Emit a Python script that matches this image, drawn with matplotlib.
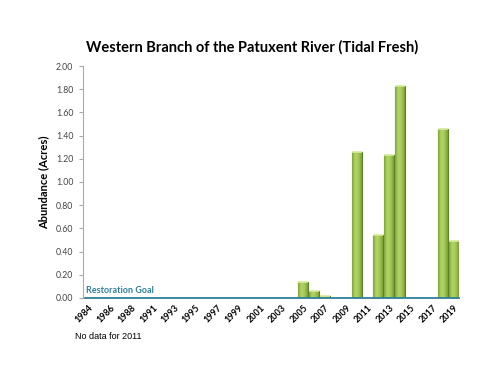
import matplotlib.pyplot as plt
import numpy as np
from matplotlib.colors import LinearSegmentedColormap

years = ['1984', '1985', '1986', '1987', '1988', '1989', '1991', '1992', '1993', '1994',
         '1995', '1996', '1997', '1998', '1999', '2000', '2001', '2002', '2003', '2004',
         '2005', '2006', '2007', '2008', '2009', '2010', '2011', '2012', '2013', '2014',
         '2015', '2016', '2017', '2018', '2019']
acres = [0, 0, 0, 0, 0, 0, 0, 0, 0, 0,
         0, 0, 0, 0, 0, 0, 0, 0, 0, 0,
         0.14, 0.06, 0.02, 0, 0, 1.26, 0, 0.54, 1.23, 1.83,
         0, 0, 0, 1.46, 0.49]
goal = [0.0] * len(years)

plt.rcParams['font.family'] = ['Lato', 'DejaVu Sans']

fig = plt.figure(figsize=(5, 3.86), dpi=100)
ax = fig.add_axes([0.166, 0.228, 0.752, 0.601])

x = np.arange(len(years))
bars = ax.bar(x, acres, width=0.92, color='#97c14b', edgecolor='#5e7f2b', linewidth=0.8, zorder=2)

# horizontal shading inside each bar, a bit like the 3D look
shade = LinearSegmentedColormap.from_list('shade', ['#7ea43a', '#b3d567', '#a3c957', '#7a9e35'])
grad = np.linspace(0, 1, 64).reshape(1, -1)
for b in bars:
    h = b.get_height()
    if h <= 0:
        continue
    x0 = b.get_x()
    im = ax.imshow(grad, cmap=shade, aspect='auto', zorder=2.1,
                   extent=[x0, x0 + b.get_width(), 0, h])
    im.set_clip_path(b)
    ax.plot([x0, x0 + b.get_width()], [h, h], color='#d7ec9c', linewidth=1.2, zorder=2.2,
            solid_capstyle='butt')

ax.plot(np.concatenate([[x[0] - 0.3], x, [x[-1] + 0.5]]),
        [goal[0]] + goal + [goal[-1]], color='#2e7f9a', linewidth=1.3, zorder=3, clip_on=False)
ax.text(-0.25, 0.045, 'Restoration Goal', color='#2e7f9a', fontsize=6.5, fontweight='bold')

ax.set_xlim(-0.5, len(years) - 0.5)
ax.set_ylim(0, 2.0)
ax.set_yticks(np.arange(0, 2.01, 0.2))
ax.set_yticklabels([f'{v:.2f}' for v in np.arange(0, 2.01, 0.2)], fontsize=6.3, color='#444444')
ax.set_xticks(x[::2])
ax.set_xticklabels(years[::2], rotation=45, fontsize=6.5, fontweight='bold',
                   ha='right', va='top', rotation_mode='anchor')
ax.tick_params(axis='x', length=0, pad=4)
ax.tick_params(axis='y', length=3, color='#aaaaaa', width=0.8, pad=4)

for s in ['top', 'right', 'bottom']:
    ax.spines[s].set_visible(False)
ax.spines['left'].set_color('#aaaaaa')

ax.set_ylabel('Abundance (Acres)', fontsize=8, fontweight='bold')
ax.yaxis.set_label_coords(-0.09, 0.5)
fig.text(0.505, 0.878, 'Western Branch of the Patuxent River (Tidal Fresh)',
         ha='center', va='center', fontsize=10.5, fontweight='bold')
fig.text(0.15, 0.127, 'No data for 2011', fontsize=6.5, ha='left', va='center',
         family=['Liberation Sans', 'DejaVu Sans'])

plt.savefig('out.png', dpi=100)
